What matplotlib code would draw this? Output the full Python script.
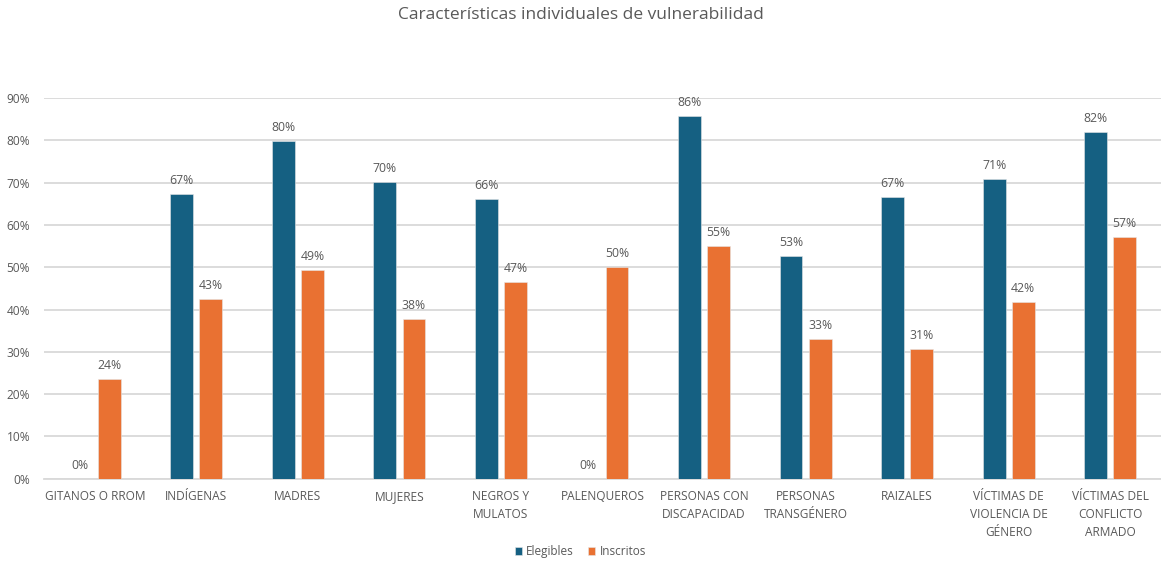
import numpy as np
import matplotlib.pyplot as plt

plt.rcParams['font.family'] = ['Open Sans', 'DejaVu Sans']

categorias = ["GITANOS O RROM", "INDÍGENAS", "MADRES", "MUJERES", "NEGROS Y\nMULATOS",
              "PALENQUEROS", "PERSONAS CON\nDISCAPACIDAD", "PERSONAS\nTRANSGÉNERO", "RAIZALES",
              "VÍCTIMAS DE\nVIOLENCIA DE\nGÉNERO", "VÍCTIMAS DEL\nCONFLICTO\nARMADO"]
elegibles = [0, 67.4, 79.8, 70.1, 66.1, 0, 85.7, 52.6, 66.6, 70.9, 81.9]
inscritos = [23.6, 42.6, 49.3, 37.7, 46.6, 50.0, 55.0, 33.1, 30.7, 41.8, 57.2]
yticks = [0, 10, 20, 30, 40, 50, 60, 70, 80, 90]

gris = "#595959"
azul = "#156082"
naranja = "#E97132"

fig = plt.figure(figsize=(11.61, 5.61), dpi=100)
ax = fig.add_axes([44 / 1161, 0.1467, 1 - 44 / 1161, 0.6786])

x = np.arange(len(categorias))
w = 0.225
off = 0.143
b1 = ax.bar(x - off, elegibles, w, color=azul, label="Elegibles", zorder=3,
            edgecolor="#e6e6e6", linewidth=0.4)
b2 = ax.bar(x + off, inscritos, w, color=naranja, label="Inscritos", zorder=3,
            edgecolor="#e6e6e6", linewidth=0.4)

for bars, vals in [(b1, elegibles), (b2, inscritos)]:
    for r, v in zip(bars, vals):
        ax.annotate(f"{round(v):.0f}%", (r.get_x() + r.get_width() / 2, v),
                    xytext=(0, 5), textcoords="offset points", ha="center", va="bottom",
                    fontsize=8.8, color=gris)

ax.set_xlim(-0.5, len(categorias) - 0.5)
ax.set_ylim(0, 90)
ax.set_yticks(yticks)
ax.set_yticklabels([f"{t}%" for t in yticks])
ax.set_xticks(x)
ax.set_xticklabels(categorias, linespacing=1.5)
ax.tick_params(axis="both", length=0, labelsize=8.6, colors=gris)
ax.tick_params(axis="x", pad=8)
ax.tick_params(axis="y", pad=10)

ax.grid(axis="y", color="#d9d9d9", linewidth=1.3, zorder=0)
for s in ["top", "right", "left"]:
    ax.spines[s].set_visible(False)
ax.spines["bottom"].set_color("#d9d9d9")
ax.spines["bottom"].set_linewidth(1.3)

fig.text(0.5, 0.973, "Características individuales de vulnerabilidad", ha="center", va="center",
         fontsize=12.5, color=gris)

fig.legend(handles=[b1, b2], loc="center", bbox_to_anchor=(0.5, 0.017), ncol=2, frameon=False,
           fontsize=8.5, labelcolor=gris, handlelength=0.6, handleheight=0.6, handletextpad=0.4,
           columnspacing=1.2)

fig.savefig("out.png", dpi=100)
